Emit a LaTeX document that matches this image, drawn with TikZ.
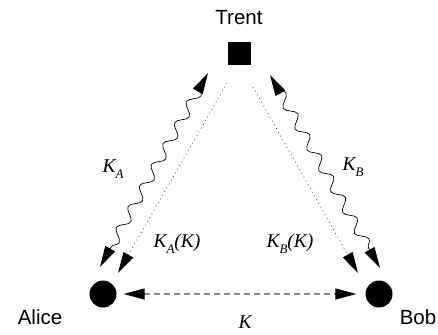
\documentclass[tikz,border=0pt]{standalone}
\usepackage{fontspec}
\setmainfont{Liberation Serif}
\setsansfont{Liberation Sans}
\usetikzlibrary{arrows.meta,decorations.pathmorphing}
\newcommand\keysub[1]{\raisebox{-6pt}{\fontsize{13}{13}\selectfont #1}}

\begin{document}
\begin{tikzpicture}[x=1pt,y=-1pt, keyhead/.tip={Triangle[length=21pt,width=11pt,black]}]
        \tikzstyle{party}=[circle, fill, minimum size=27pt, inner sep=0pt]
        \tikzstyle{server}=[rectangle, fill, minimum size=23pt, inner sep=0pt]
        \tikzstyle{partyname}=[font=\sffamily\fontsize{20.5}{24}\selectfont]
        \tikzstyle{keylabel}=[font=\fontsize{19.5}{23}\selectfont\itshape]
        \tikzstyle{wavy}=[line width=0.7pt, decorate,
            decoration={snake, amplitude=5pt, segment length=24pt, pre length=16pt, post length=16pt}]
        \tikzstyle{dotline}=[black!75, line width=0.8pt, dash pattern=on 0.8pt off 3.5pt]
        \tikzstyle{dashline}=[gray!90, line width=1.1pt, dash pattern=on 6pt off 4pt]

        \useasboundingbox (0,0) rectangle (438,334);

        \node[server] (t) at (239.5,53.5) {};
        \node[party] (a) at (103,294) {};
        \node[party] (b) at (379,294) {};

        \node[partyname] (tn) at (239,18) {Trent};
        \node[partyname] (an) at (40,317) {Alice};
        \node[partyname] (bn) at (418,317) {Bob};

        % Trent -- Alice
        \draw[wavy, keyhead-keyhead] ([shift={(-31.5,19.5)}]t.center) -- ([shift={(-3,-27)}]a.center);
        \draw[dotline, -keyhead] ([shift={(-12.5,29.5)}]t.center) -- ([shift={(15,-21)}]a.center);
        \node[keylabel] (ka) at (113,169) {K\keysub{A}};
        \node[keylabel] (kak) at (177,244) {K\keysub{A}(K)};

        % Trent -- Bob
        \draw[wavy, keyhead-keyhead] ([shift={(30.5,21.5)}]t.center) -- ([shift={(1,-26)}]b.center);
        \draw[dotline, -keyhead] ([shift={(13.5,33.5)}]t.center) -- ([shift={(-21,-21)}]b.center);
        \node[keylabel] (kb) at (353,167) {K\keysub{B}};
        \node[keylabel] (kbk) at (290,244) {K\keysub{B}(K)};

        % Alice -- Bob
        \draw[dashline, keyhead-keyhead, shorten <=7pt, shorten >=9pt] (a) -- (b);
        \node[keylabel] (k) at (245,322) {K};
    \end{tikzpicture}
\end{document}
